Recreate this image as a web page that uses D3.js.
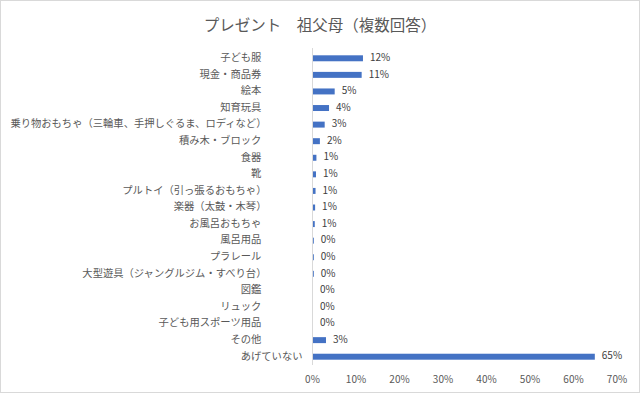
<!DOCTYPE html>
<html>
<head>
<meta charset="utf-8">
<script src="https://cdn.jsdelivr.net/npm/d3@7"></script>
<style>
  html, body { margin: 0; padding: 0; background: #fff; }
  svg text { font-family: "Noto Sans CJK JP", "Noto Sans", sans-serif; white-space: pre; }
</style>
</head>
<body>
<div id="chart"></div>
<script>
// chart data (percent of respondents)
const title = 'プレゼント　祖父母（複数回答）';
const categories = [
  '子ども服　　　　',
  '現金・商品券　　　　',
  '絵本　　　　',
  '知育玩具　　　　',
  '乗り物おもちゃ（三輪車、手押しぐるま、ロディなど）　　　　',
  '積み木・ブロック　　　　',
  '食器　　　　',
  '靴　　　　',
  'プルトイ（引っ張るおもちゃ）　　　　',
  '楽器（太鼓・木琴）　　　　',
  'お風呂おもちゃ　　　　',
  '風呂用品　　　　',
  'プラレール　　　　',
  '大型遊具（ジャングルジム・すべり台）　　　　',
  '図鑑　　　　',
  'リュック　　　　',
  '子ども用スポーツ用品　　　　',
  'その他　　　　',
  'あげていない'
];
const values = [11.6, 11.3, 5.1, 3.8, 2.8, 1.7, 0.9, 0.8, 0.7, 0.6, 0.52, 0.3, 0.3, 0.3, 0.1, 0.1, 0.1, 3.1, 64.9];
const xTicks = [0, 10, 20, 30, 40, 50, 60, 70];

const width = 640, height = 393;
const margin = { top: 50, right: 23, bottom: 28, left: 312.5 };

const svg = d3.select('#chart').append('svg')
  .attr('width', width)
  .attr('height', height);

// outer border
svg.append('rect')
  .attr('x', 0.5).attr('y', 0.5)
  .attr('width', width - 1).attr('height', height - 1)
  .attr('fill', '#fff')
  .attr('stroke', '#d9d9d9');

svg.append('text')
  .attr('x', width / 2)
  .attr('y', 27)
  .attr('text-anchor', 'middle')
  .attr('dominant-baseline', 'middle')
  .attr('font-size', 15.5)
  .attr('fill', '#595959')
  .text(title);

const x = d3.scaleLinear()
  .domain([0, 70])
  .range([margin.left, width - margin.right]);

const y = d3.scaleBand()
  .domain(categories)
  .range([margin.top, height - margin.bottom])
  .paddingInner(0.64)
  .paddingOuter(0.32);

const rows = categories.map((c, i) => ({ cat: c, val: values[i] }));

// bars
svg.selectAll('rect.bar')
  .data(rows)
  .enter()
  .append('rect')
  .attr('class', 'bar')
  .attr('x', x(0))
  .attr('y', d => y(d.cat))
  .attr('width', d => x(d.val) - x(0))
  .attr('height', y.bandwidth())
  .attr('fill', '#4472c4');

// vertical axis line
svg.append('line')
  .attr('x1', x(0)).attr('x2', x(0))
  .attr('y1', margin.top - 2).attr('y2', height - margin.bottom)
  .attr('stroke', '#d9d9d9')
  .attr('stroke-width', 1);

// category labels
svg.selectAll('text.cat')
  .data(rows)
  .enter()
  .append('text')
  .attr('class', 'cat')
  .attr('x', x(0) - 10)
  .attr('y', d => y(d.cat) + y.bandwidth() / 2)
  .attr('text-anchor', 'end')
  .attr('dominant-baseline', 'middle')
  .attr('font-size', 10.3)
  .attr('fill', '#595959')
  .text(d => d.cat);

// value labels
svg.selectAll('text.val')
  .data(rows)
  .enter()
  .append('text')
  .attr('class', 'val')
  .attr('x', d => x(d.val) + 7)
  .attr('y', d => y(d.cat) + y.bandwidth() / 2)
  .attr('dominant-baseline', 'middle')
  .attr('font-size', 10)
  .attr('fill', '#404040')
  .text(d => Math.round(d.val) + '%');

// x tick labels
svg.selectAll('text.tick')
  .data(xTicks)
  .enter()
  .append('text')
  .attr('class', 'tick')
  .attr('x', d => x(d))
  .attr('y', 380)
  .attr('text-anchor', 'middle')
  .attr('dominant-baseline', 'middle')
  .attr('font-size', 10)
  .attr('fill', '#595959')
  .text(d => d + '%');
</script>
</body>
</html>
